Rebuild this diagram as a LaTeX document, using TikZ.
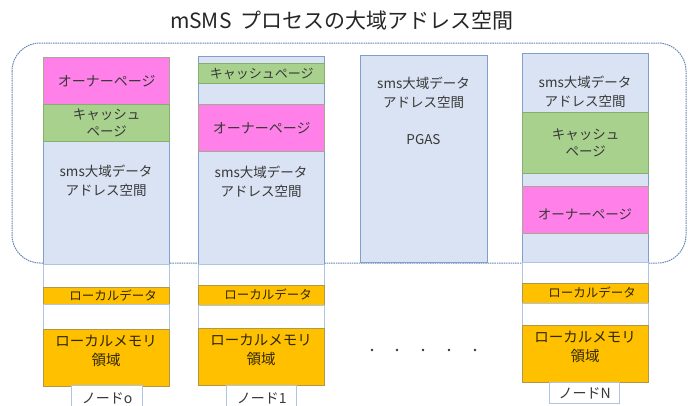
\documentclass[tikz,border=0pt]{standalone}
\usepackage{fontspec}
\setmainfont{Noto Sans CJK JP}
\definecolor{pinkfill}{HTML}{FF80E8}
\definecolor{pinkline}{HTML}{A8A890}
\definecolor{greenfill}{HTML}{A9D18E}
\definecolor{greenline}{HTML}{86AE6C}
\definecolor{bluefill}{HTML}{DAE3F3}
\definecolor{blueline}{HTML}{809FCB}
\definecolor{lightline}{HTML}{AFC3E3}
\definecolor{orangefill}{HTML}{FFC000}
\definecolor{orangeline}{HTML}{B09848}
\definecolor{dashline}{HTML}{6586B8}
\definecolor{txt}{HTML}{383838}
\definecolor{darktxt}{HTML}{302800}
\tikzset{
  blk/.style={rectangle, anchor=north west, inner sep=0pt, align=center, text=txt, line width=1.3pt},
  bluebox/.style={blk, fill=bluefill, draw=blueline},
  pinkbox/.style={blk, fill=pinkfill, draw=pinkline},
  greenbox/.style={blk, fill=greenfill, draw=greenline},
  whitebox/.style={blk, fill=white, draw=lightline},
  orangebox/.style={blk, fill=orangefill, draw=orangeline, text=darktxt},
  nodebox/.style={blk, fill=white, draw=lightline, font=\fontsize{14}{16}\selectfont},
  lbl/.style={inner sep=0pt, align=center, text=txt, font=\fontsize{13.5}{19}\selectfont},
  memlbl/.style={inner sep=0pt, align=center, text=darktxt, font=\fontsize{14.5}{19}\selectfont},
  datalbl/.style={inner sep=0pt, text=darktxt, font=\fontsize{12.5}{14}\selectfont},
  region/.style={draw=dashline, line width=1pt, dash pattern=on 1.5pt off 0.8pt, rounded corners=28pt},
  dotmark/.style={circle, fill=black!80, inner sep=0pt, minimum size=2.8pt}
}
\begin{document}
\begin{tikzpicture}[x=1pt, y=-1pt, font=\fontsize{14}{18}\selectfont]
\useasboundingbox (0,0) rectangle (688,405);
% title
\node[text=black!85, font=\fontsize{21}{24}\selectfont] (title) at (342,21) {mSMS\hspace{0.45em}プロセスの大域アドレス空間};
% dashed region
\draw[region] (12,43) rectangle (686,263);

% ---------- column 1 ----------
\node[bluebox, minimum width=126, minimum height=123] (c1blue) at (43,141) {};
\node[lbl] (c1bluet) at (106,181) {sms大域データ\\アドレス空間};
\node[pinkbox, minimum width=126, minimum height=47] (c1owner) at (43,57) {オーナーページ};
\node[greenbox, minimum width=126, minimum height=37, font=\fontsize{13.5}{17}\selectfont] (c1cache) at (43,104) {キャッシュ\\ページ};
\node[whitebox, minimum width=126, minimum height=23] (c1w1) at (43,264) {};
\node[orangebox, minimum width=126, minimum height=17] (c1data) at (43,287) {};
\node[datalbl] (c1datat) at (113,295.5) {ローカルデータ};
\node[whitebox, minimum width=126, minimum height=25] (c1w2) at (43,304) {};
\node[orangebox, minimum width=126, minimum height=57] (c1mem) at (43,329) {};
\node[memlbl] (c1memt) at (106,351) {ローカルメモリ\\領域};
\node[nodebox, minimum width=71, minimum height=26] (c1node) at (71,385) {ノードo};

% ---------- column 2 ----------
\node[bluebox, minimum width=126, minimum height=208] (c2blue) at (198,56) {};
\node[greenbox, minimum width=126, minimum height=20, font=\fontsize{13}{15}\selectfont] (c2cache) at (198,63) {キャッシュページ};
\node[pinkbox, minimum width=126, minimum height=47] (c2owner) at (198,104) {オーナーページ};
\node[lbl] (c2bluet) at (261,182) {sms大域データ\\アドレス空間};
\node[whitebox, minimum width=126, minimum height=21] (c2w1) at (198,264) {};
\node[orangebox, minimum width=126, minimum height=20] (c2data) at (198,285) {};
\node[datalbl] (c2datat) at (268,295) {ローカルデータ};
\node[whitebox, minimum width=126, minimum height=23] (c2w2) at (198,305) {};
\node[orangebox, minimum width=126, minimum height=57] (c2mem) at (198,328) {};
\node[memlbl] (c2memt) at (261,350) {ローカルメモリ\\領域};
\node[nodebox, minimum width=70, minimum height=26] (c2node) at (226,385) {ノード1};

% ---------- column 3 ----------
\node[bluebox, minimum width=127, minimum height=207] (c3blue) at (360,55) {};
\node[lbl] (c3bluet) at (423.5,93) {sms大域データ\\アドレス空間};
\node[lbl] (c3pgas) at (423.5,140) {PGAS};

% dots
\node[dotmark] (d1) at (372,350) {};
\node[dotmark] (d2) at (397,350) {};
\node[dotmark] (d3) at (423,350) {};
\node[dotmark] (d4) at (449,350) {};
\node[dotmark] (d5) at (475,350) {};

% ---------- column 4 ----------
\node[bluebox, minimum width=126, minimum height=209] (c4blue) at (522,53) {};
\node[lbl] (c4bluet) at (585,92) {sms大域データ\\アドレス空間};
\node[greenbox, minimum width=126, minimum height=61, font=\fontsize{13.5}{17}\selectfont] (c4cache) at (522,112) {キャッシュ\\ページ};
\node[pinkbox, minimum width=126, minimum height=47] (c4owner) at (522,186) {};
\node[lbl] (c4ownert) at (585,214) {オーナーページ};
\node[whitebox, minimum width=126, minimum height=21] (c4w1) at (522,262) {};
\node[orangebox, minimum width=126, minimum height=20] (c4data) at (522,283) {};
\node[datalbl] (c4datat) at (592,293) {ローカルデータ};
\node[whitebox, minimum width=126, minimum height=22] (c4w2) at (522,303) {};
\node[orangebox, minimum width=126, minimum height=57] (c4mem) at (522,325) {};
\node[memlbl] (c4memt) at (585,347) {ローカルメモリ\\領域};
\node[nodebox, minimum width=70, minimum height=21] (c4node) at (549,382) {ノードN};
\end{tikzpicture}
\end{document}
